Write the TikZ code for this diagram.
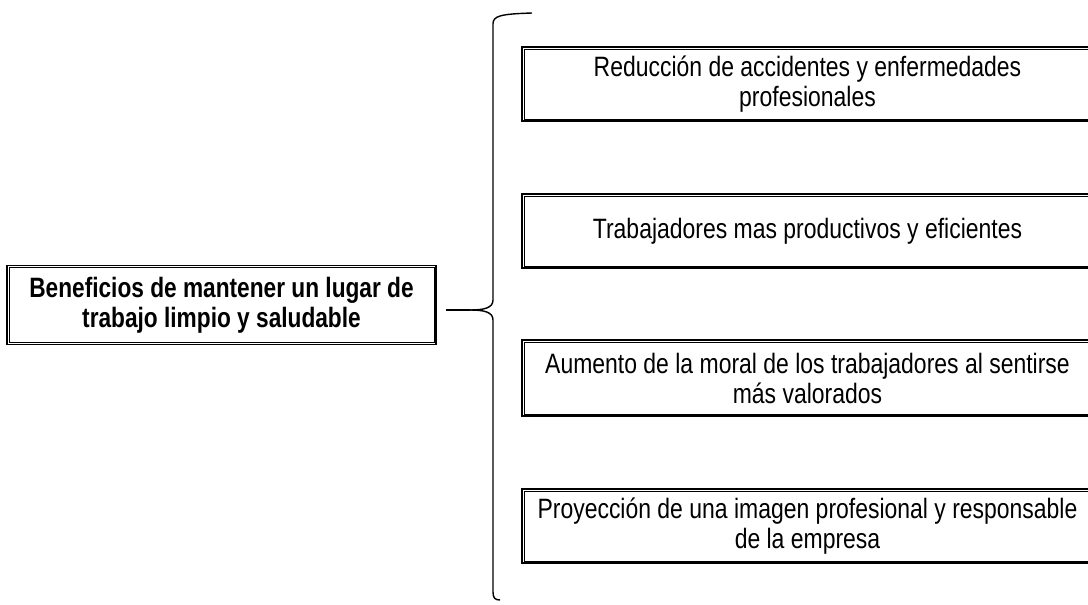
\documentclass[tikz,border=0pt]{standalone}
\usepackage{fontspec}
\setmainfont{Liberation Sans}[FakeStretch=0.82]
\newfontfamily\boldnarrow{Liberation Sans}[FakeStretch=0.81]
\begin{document}
\begin{tikzpicture}[x=1pt,y=-1pt,
  boxtxt/.style={font=\fontsize{28}{30}\selectfont, align=center, inner sep=0pt},
  outerbox/.style={boxtxt, draw, line width=1.9pt},
  innerline/.style={line width=0.7pt},
  braceline/.style={line width=1.4pt}]
\useasboundingbox (0,0) rectangle (1088,605);
\clip (0,0) rectangle (1088,605);
\fill[white] (0,0) rectangle (1088,605);
% left box
\node[outerbox, font=\boldnarrow\bfseries\fontsize{28}{30}\selectfont, minimum width=429pt, minimum height=79pt] (L) at (221.5,305) {Beneficios de mantener un lugar de\\trabajo limpio y saludable};
% right boxes
\node[outerbox, minimum width=571pt, minimum height=74pt] (b1) at (807.5,84) {Reducción de accidentes y enfermedades\\profesionales};
\node[outerbox, minimum width=571pt, minimum height=74pt] (b2) at (807.5,231) {Trabajadores mas productivos y eficientes};
\node[outerbox, minimum width=571pt, minimum height=76pt] (b3) at (807.5,378) {Aumento de la moral de los trabajadores al sentirse\\más valorados};
\node[outerbox, minimum width=571pt, minimum height=74pt] (b4) at (807.5,526) {Proyección de una imagen profesional y responsable\\de la empresa};
\foreach \n in {L,b1,b2,b3,b4}
  \draw[innerline] ([xshift=3pt,yshift=-3pt]\n.north west) rectangle ([xshift=-3pt,yshift=3pt]\n.south east);
% brace
\coordinate (start) at (446,310);
\coordinate (tip) at (470,310);
\coordinate (top) at (532,13);
\coordinate (bot) at (500,600);
\draw[braceline] (start) -- (tip);
\draw[braceline] (tip) .. controls (484,310) and (493,308) .. (493,300) -- (493,24) .. controls (493,16) and (500,14) .. (top);
\draw[braceline] (tip) .. controls (484,310) and (493,312) .. (493,320) -- (493,592) .. controls (493,598) and (495,600) .. (bot);
\end{tikzpicture}
\end{document}
